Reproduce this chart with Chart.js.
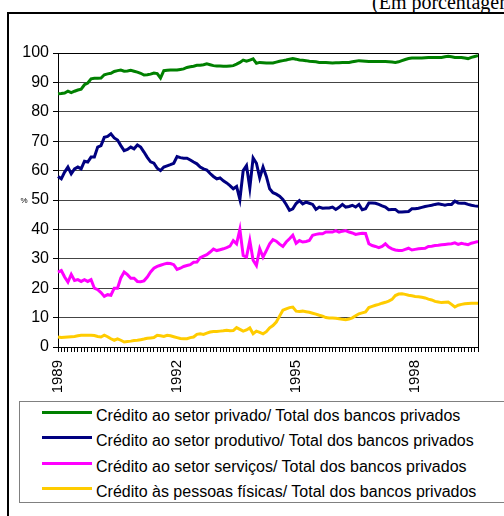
<!DOCTYPE html>
<html>
<head>
<meta charset="utf-8">
<script src="https://cdn.jsdelivr.net/npm/chart.js@4"></script>
<style>
    body { margin: 0; width: 504px; height: 516px; overflow: hidden; background: #fff; position: relative; font-family: "Liberation Sans", Arial, sans-serif; }
    #frame { position: absolute; left: 7px; top: 12px; width: 520px; height: 520px; border-left: 2px solid #000; border-top: 2px solid #000; }
    #unit { position: absolute; left: 372px; top: -9px; font: 20px "Liberation Serif", "Times New Roman", serif; white-space: nowrap; }
    #chartBox { position: absolute; left: 0; top: 0; width: 504px; height: 400px; }
    #legend { position: absolute; left: 19px; top: 401px; width: 500px; height: 100px; border: 1px solid #808080; }
    .row { position: absolute; left: 0; height: 25px; line-height: 25px; font-size: 16px; white-space: nowrap; }
    .row .swatch { position: absolute; left: 22px; top: 8px; width: 50px; height: 3px; }
    .row .label { position: absolute; left: 76px; top: 0; color: #000; }
</style>
</head>
<body>
<div id="frame"></div>
<div id="unit">(Em porcentagem)</div>
<div id="chartBox"><canvas id="lineChart" width="504" height="400"></canvas></div>
<div id="legend"></div>
<script>
// Monthly series, Jan 1989 onwards (128 months)
const startYear = 1989;
const yearLabels = ['1989', '1992', '1995', '1998'];

const seriesNames = [
    'Crédito ao setor privado/ Total dos bancos privados',
    'Crédito ao setor produtivo/ Total dos bancos privados',
    'Crédito ao setor serviços/ Total dos bancos privados',
    'Crédito às pessoas físicas/ Total dos bancos privados'
];
const seriesColors = ['#008000', '#000080', '#FF00FF', '#FFCC00'];

const privado = [
    86.1, 86.2, 86.4, 87.0, 86.5, 87.0, 87.4, 87.7, 89.2, 89.8, 91.2, 91.4,
    91.4, 91.5, 92.6, 92.9, 93.1, 93.7, 94.0, 94.2, 93.8, 93.9, 94.1, 93.8,
    93.5, 93.1, 92.5, 92.6, 92.8, 93.2, 93.0, 91.5, 94.0, 94.1, 94.2, 94.2,
    94.2, 94.4, 94.6, 95.1, 95.3, 95.5, 95.8, 95.8, 96.0, 96.3, 96.0, 95.7,
    95.6, 95.6, 95.5, 95.5, 95.6, 95.7, 96.2, 96.8, 97.6, 97.2, 97.6, 98.0,
    96.5, 96.8, 96.7, 96.6, 96.6, 96.6, 96.9, 97.2, 97.4, 97.6, 97.9, 98.1,
    97.9, 97.6, 97.5, 97.4, 97.2, 97.1, 97.0, 96.8, 96.8, 96.8, 96.7, 96.6,
    96.7, 96.7, 96.8, 96.8, 96.8, 97.0, 97.2, 97.4, 97.3, 97.2, 97.1, 97.1,
    97.1, 97.1, 97.1, 97.1, 97.0, 96.9, 96.8, 97.0, 97.4, 97.8, 98.1, 98.3,
    98.3, 98.3, 98.3, 98.4, 98.5, 98.5, 98.5, 98.5, 98.5, 98.7, 98.9, 98.7,
    98.5, 98.5, 98.5, 98.3, 98.1, 98.5, 98.8, 99.1
];
const produtivo = [
    58.0, 57.2, 59.5, 61.2, 58.9, 60.6, 61.2, 60.6, 63.2, 62.9, 64.6, 64.6,
    68.0, 68.5, 71.3, 71.6, 72.5, 71.1, 70.4, 68.5, 66.8, 67.2, 68.0, 67.4,
    68.7, 68.0, 66.3, 64.5, 63.0, 62.5, 60.8, 60.0, 61.2, 61.6, 62.0, 62.5,
    64.8, 64.4, 64.2, 64.2, 63.6, 62.9, 62.3, 61.2, 60.6, 60.2, 59.0, 58.0,
    57.2, 57.5, 56.5, 55.8, 54.9, 53.8, 54.6, 50.2, 60.0, 61.7, 54.1, 64.3,
    62.5, 57.5, 61.2, 58.0, 53.8, 52.5, 52.0, 51.3, 50.2, 48.5, 46.5, 47.0,
    48.8, 49.8, 48.7, 49.3, 48.9, 48.5, 46.8, 47.6, 47.2, 47.3, 47.3, 47.6,
    46.8, 47.5, 48.5, 47.6, 47.8, 48.2, 47.6, 48.5, 46.7, 47.0, 49.0, 49.0,
    48.9, 48.5, 48.0, 47.6, 46.7, 46.8, 46.8, 45.9, 45.9, 46.0, 46.1, 47.0,
    47.0, 47.2, 47.5, 47.8, 48.0, 48.2, 48.5, 48.7, 48.5, 48.2, 48.5, 48.5,
    49.6, 49.0, 48.9, 48.9, 48.5, 48.2, 48.0, 47.9
];
const servicos = [
    25.5, 26.0, 23.8, 22.1, 24.7, 22.6, 22.9, 22.3, 22.9, 22.3, 22.9, 20.0,
    19.5, 18.5, 17.2, 17.8, 17.6, 20.0, 20.0, 23.5, 25.5, 24.6, 23.4, 23.4,
    22.3, 22.2, 22.5, 23.8, 25.5, 26.8, 27.4, 27.8, 28.2, 28.5, 28.4, 28.0,
    26.4, 26.8, 27.4, 27.7, 28.0, 28.8, 28.9, 30.4, 30.9, 31.4, 32.3, 33.3,
    32.8, 33.1, 33.4, 33.8, 34.3, 36.2, 35.1, 40.0, 31.1, 30.6, 36.2, 29.5,
    27.7, 33.4, 30.6, 32.8, 35.1, 36.5, 36.0, 35.0, 34.2, 35.7, 36.8, 38.0,
    35.3, 36.2, 35.7, 35.9, 36.2, 38.0, 38.3, 38.5, 38.5, 39.1, 39.1, 39.1,
    39.6, 39.1, 39.4, 39.6, 39.1, 38.8, 38.3, 38.5, 38.7, 38.6, 35.1, 34.5,
    34.2, 33.8, 34.2, 35.1, 34.0, 33.4, 33.0, 32.8, 32.8, 33.2, 33.6, 33.0,
    33.2, 33.4, 33.5, 33.6, 34.2, 34.3, 34.5, 34.6, 34.8, 34.9, 35.0, 35.1,
    35.4, 34.9, 35.3, 35.0, 34.8, 35.3, 35.6, 35.9
];
const pessoasFisicas = [
    3.4, 3.2, 3.3, 3.4, 3.5, 3.6, 3.8, 4.0, 4.0, 4.0, 4.0, 3.9,
    3.6, 3.4, 4.0, 3.5, 2.8, 2.3, 2.8, 2.3, 1.7, 1.9, 2.0, 2.2,
    2.3, 2.5, 2.7, 3.0, 3.1, 3.2, 4.0, 3.8, 3.6, 4.0, 3.8, 3.5,
    3.2, 2.9, 2.8, 2.8, 3.2, 3.4, 4.3, 4.5, 4.3, 4.7, 5.1, 5.3,
    5.3, 5.4, 5.5, 5.7, 5.5, 5.6, 6.6, 6.0, 5.4, 5.8, 6.5, 4.5,
    5.4, 5.0, 4.5, 5.2, 6.5, 7.3, 8.5, 10.5, 12.5, 13.0, 13.4, 13.6,
    12.2, 12.1, 12.2, 12.0, 11.8, 11.5, 11.2, 10.8, 10.5, 10.0, 9.9, 9.9,
    9.8, 9.6, 9.4, 9.3, 9.5, 9.9, 10.6, 11.3, 11.6, 11.9, 13.4, 13.8,
    14.2, 14.5, 14.9, 15.2, 15.6, 16.2, 17.5, 18.0, 18.1, 17.9, 17.6, 17.4,
    17.2, 17.1, 16.9, 16.7, 16.3, 16.0, 15.5, 15.3, 15.1, 15.2, 15.3, 14.5,
    13.6, 14.2, 14.5, 14.7, 14.8, 14.9, 14.9, 14.9
];

// One category per month; only January of the listed years gets a label
const months = privado.map((_, i) => {
    const y = startYear + Math.floor(i / 12);
    const m = (i % 12) + 1;
    return y + '-' + String(m).padStart(2, '0');
});

const seriesData = [privado, produtivo, servicos, pessoasFisicas];

Chart.defaults.font.family = '"Liberation Sans", Arial, sans-serif';
Chart.defaults.font.size = 15;
Chart.defaults.color = '#000';

// Draws the top/right plot border and the small "%" unit mark
const plotFrame = {
    id: 'plotFrame',
    afterDraw(chart) {
        const { ctx, chartArea: a, scales } = chart;
        ctx.save();
        ctx.strokeStyle = '#000';
        ctx.lineWidth = 1;
        ctx.beginPath();
        ctx.moveTo(Math.round(a.left) + 0.5, Math.round(a.top) + 0.5);
        ctx.lineTo(Math.round(a.right) + 0.5, Math.round(a.top) + 0.5);
        ctx.lineTo(Math.round(a.right) + 0.5, Math.round(a.bottom) + 0.5);
        ctx.stroke();
        ctx.font = '8px "Liberation Sans", Arial, sans-serif';
        ctx.fillStyle = '#000';
        ctx.textAlign = 'center';
        ctx.textBaseline = 'middle';
        ctx.fillText('%', 24, scales.y.getPixelForValue(50) + 1);
        ctx.restore();
    }
};

new Chart(document.getElementById('lineChart'), {
    type: 'line',
    data: {
        labels: months,
        datasets: seriesData.map((d, i) => ({
            label: seriesNames[i],
            data: d,
            borderColor: seriesColors[i],
            backgroundColor: seriesColors[i],
            borderWidth: 3,
            pointRadius: 0,
            tension: 0
        }))
    },
    options: {
        responsive: false,
        animation: false,
        layout: { padding: { left: 18, right: 22, top: 53, bottom: 3 } },
        plugins: {
            legend: { display: false },
            tooltip: { enabled: false }
        },
        scales: {
            x: {
                offset: false,
                afterFit: (scale) => { scale.height = 50; },
                grid: {
                    drawOnChartArea: false,
                    drawTicks: true,
                    tickLength: 5,
                    color: '#000'
                },
                border: { color: '#000', width: 1 },
                ticks: {
                    autoSkip: false,
                    maxRotation: 90,
                    minRotation: 90,
                    padding: 8,
                    font: { size: 15 },
                    callback: function(value, index) {
                        const lbl = months[index].slice(0, 4);
                        return (months[index].endsWith('-01') && yearLabels.includes(lbl)) ? lbl : '';
                    }
                }
            },
            y: {
                min: 0,
                max: 100,
                afterFit: (scale) => { scale.width = 40; },
                grid: {
                    color: '#444',
                    lineWidth: 1,
                    tickLength: 5,
                    tickColor: '#000'
                },
                border: { color: '#000', width: 1 },
                ticks: {
                    stepSize: 10,
                    padding: 4,
                    font: { size: 16 }
                }
            }
        }
    },
    plugins: [plotFrame]
});

// Legend drawn as HTML rows from the series lists
const legendEl = document.getElementById('legend');
seriesNames.forEach((name, i) => {
    const row = document.createElement('div');
    row.className = 'row';
    row.style.top = (1 + i * 25.3) + 'px';
    row.innerHTML = '<span class="swatch" style="background:' + seriesColors[i] + '"></span><span class="label"></span>';
    row.querySelector('.label').textContent = name;
    legendEl.appendChild(row);
});
</script>
</body>
</html>
